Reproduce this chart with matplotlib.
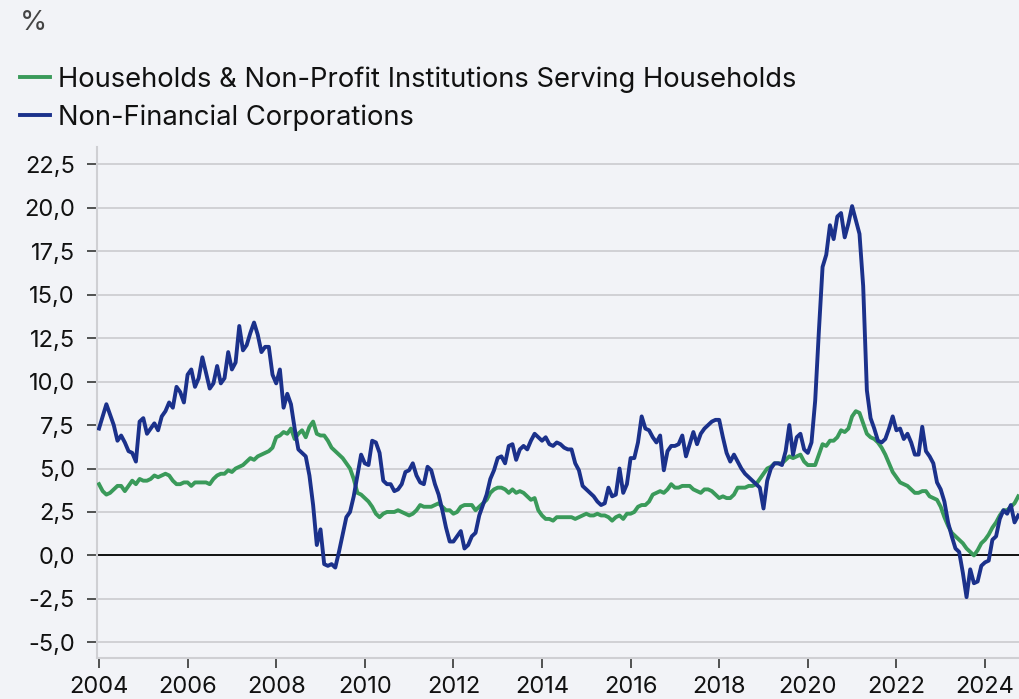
import matplotlib
matplotlib.use("Agg")
import matplotlib.pyplot as plt
import numpy as np
from matplotlib.ticker import FuncFormatter, MultipleLocator

plt.rcParams['font.family'] = ['Inter', 'DejaVu Sans']

start_year = 2004
# Monthly values, Jan 2004 .. Oct 2024
nfc = [
    # 2004
    7.3, 8.0, 8.7, 8.1, 7.5, 6.6, 6.9, 6.5, 6.0, 5.9, 5.4, 7.7,
    # 2005
    7.9, 7.0, 7.3, 7.6, 7.2, 8.0, 8.3, 8.8, 8.5, 9.7, 9.4, 8.8,
    # 2006
    10.4, 10.7, 9.7, 10.2, 11.4, 10.5, 9.6, 9.9, 10.9, 9.9, 10.2, 11.7,
    # 2007
    10.7, 11.1, 13.2, 11.8, 12.1, 12.8, 13.4, 12.7, 11.7, 12.0, 12.0, 10.4,
    # 2008
    9.9, 10.7, 8.5, 9.3, 8.7, 7.3, 6.1, 5.9, 5.7, 4.6, 2.9, 0.6,
    # 2009
    1.5, -0.5, -0.6, -0.5, -0.7, 0.2, 1.2, 2.2, 2.5, 3.4, 4.6, 5.8,
    # 2010
    5.3, 5.2, 6.6, 6.5, 5.9, 4.3, 4.1, 4.1, 3.7, 3.8, 4.1, 4.8,
    # 2011
    4.9, 5.3, 4.6, 4.2, 4.1, 5.1, 4.9, 4.1, 3.5, 2.6, 1.6, 0.8,
    # 2012
    0.8, 1.1, 1.4, 0.4, 0.6, 1.1, 1.3, 2.3, 2.9, 3.5, 4.4, 4.9,
    # 2013
    5.6, 5.7, 5.3, 6.3, 6.4, 5.5, 6.1, 6.3, 6.1, 6.6, 7.0, 6.8,
    # 2014
    6.6, 6.8, 6.4, 6.3, 6.5, 6.4, 6.2, 6.1, 6.1, 5.3, 4.9, 4.0,
    # 2015
    3.8, 3.6, 3.4, 3.1, 2.9, 3.0, 3.9, 3.4, 3.5, 5.0, 3.6, 4.1,
    # 2016
    5.6, 5.6, 6.5, 8.0, 7.3, 7.2, 6.8, 6.5, 6.9, 4.9, 6.0, 6.3,
    # 2017
    6.3, 6.4, 6.9, 5.7, 6.4, 7.1, 6.4, 7.0, 7.3, 7.5, 7.7, 7.8,
    # 2018
    7.8, 6.8, 5.9, 5.4, 5.8, 5.4, 5.0, 4.7, 4.5, 4.3, 4.1, 3.9,
    # 2019
    2.7, 4.3, 5.0, 5.3, 5.3, 5.2, 6.0, 7.5, 5.8, 6.8, 7.0, 6.1,
    # 2020
    5.9, 6.5, 8.9, 12.9, 16.6, 17.3, 19.0, 18.2, 19.5, 19.7, 18.3, 19.1,
    # 2021
    20.1, 19.3, 18.5, 15.5, 9.5, 7.9, 7.3, 6.6, 6.5, 6.7, 7.3, 8.0,
    # 2022
    7.2, 7.3, 6.7, 7.0, 6.5, 5.8, 5.8, 7.4, 6.0, 5.7, 5.3, 4.2,
    # 2023
    3.8, 3.1, 1.9, 1.1, 0.4, 0.2, -1.0, -2.4, -0.8, -1.6, -1.5, -0.6,
    # 2024
    -0.4, -0.3, 0.9, 1.1, 2.1, 2.6, 2.4, 2.9, 1.9, 2.3,
]

households = [
    # 2004
    4.1, 3.7, 3.5, 3.6, 3.8, 4.0, 4.0, 3.7, 4.0, 4.3, 4.1, 4.4,
    # 2005
    4.3, 4.3, 4.4, 4.6, 4.5, 4.6, 4.7, 4.6, 4.3, 4.1, 4.1, 4.2,
    # 2006
    4.2, 4.0, 4.2, 4.2, 4.2, 4.2, 4.1, 4.4, 4.6, 4.7, 4.7, 4.9,
    # 2007
    4.8, 5.0, 5.1, 5.2, 5.4, 5.6, 5.5, 5.7, 5.8, 5.9, 6.0, 6.2,
    # 2008
    6.8, 6.9, 7.1, 7.0, 7.3, 6.7, 7.0, 7.2, 6.8, 7.4, 7.7, 7.0,
    # 2009
    6.9, 6.9, 6.6, 6.2, 6.0, 5.8, 5.6, 5.3, 5.0, 4.4, 3.6, 3.5,
    # 2010
    3.3, 3.1, 2.8, 2.4, 2.2, 2.4, 2.5, 2.5, 2.5, 2.6, 2.5, 2.4,
    # 2011
    2.3, 2.4, 2.6, 2.9, 2.8, 2.8, 2.8, 2.9, 3.0, 2.8, 2.6, 2.6,
    # 2012
    2.4, 2.5, 2.8, 2.9, 2.9, 2.9, 2.6, 2.8, 3.0, 3.2, 3.6, 3.8,
    # 2013
    3.9, 3.9, 3.8, 3.6, 3.8, 3.6, 3.7, 3.6, 3.4, 3.2, 3.3, 2.6,
    # 2014
    2.3, 2.1, 2.1, 2.0, 2.2, 2.2, 2.2, 2.2, 2.2, 2.1, 2.2, 2.3,
    # 2015
    2.4, 2.3, 2.3, 2.4, 2.3, 2.3, 2.2, 2.0, 2.2, 2.3, 2.1, 2.4,
    # 2016
    2.4, 2.5, 2.8, 2.9, 2.9, 3.1, 3.5, 3.6, 3.7, 3.6, 3.8, 4.1,
    # 2017
    3.9, 3.9, 4.0, 4.0, 4.0, 3.8, 3.7, 3.6, 3.8, 3.8, 3.7, 3.5,
    # 2018
    3.3, 3.4, 3.3, 3.3, 3.5, 3.9, 3.9, 3.9, 4.0, 4.0, 4.1, 4.4,
    # 2019
    4.7, 5.0, 5.1, 5.3, 5.3, 5.3, 5.5, 5.7, 5.6, 5.7, 5.8, 5.4,
    # 2020
    5.2, 5.2, 5.2, 5.8, 6.4, 6.3, 6.6, 6.6, 6.8, 7.2, 7.1, 7.3,
    # 2021
    8.0, 8.3, 8.2, 7.6, 7.0, 6.8, 6.7, 6.5, 6.2, 5.8, 5.3, 4.8,
    # 2022
    4.5, 4.2, 4.1, 4.0, 3.8, 3.6, 3.6, 3.7, 3.7, 3.4, 3.3, 3.2,
    # 2023
    2.8, 2.2, 1.7, 1.3, 1.1, 0.9, 0.7, 0.4, 0.2, 0.0, 0.3, 0.7,
    # 2024
    0.9, 1.2, 1.6, 1.9, 2.3, 2.6, 2.6, 2.8, 3.0, 3.4,
]

series_labels = ["Households & Non-Profit Institutions Serving Households",
                 "Non-Financial Corporations"]
x_ticks = [2004, 2006, 2008, 2010, 2012, 2014, 2016, 2018, 2020, 2022, 2024]

GREEN = "#3a9a5a"
BLUE = "#1b318b"
BG = "#f2f3f7"

t_h = start_year + np.arange(len(households)) / 12.0
t_n = start_year + np.arange(len(nfc)) / 12.0

fig = plt.figure(figsize=(10.20, 6.99), dpi=100, facecolor=BG)
ax = fig.add_axes([0.0951, 0.0587, 0.9049, 0.7310])
ax.set_facecolor(BG)

ax.yaxis.set_major_locator(MultipleLocator(2.5))
ax.grid(axis='y', color='#cbcbcf', linewidth=1.2, zorder=0)
ax.axhline(0, color='#111111', linewidth=1.4, zorder=2)

lh, = ax.plot(t_h, households, color=GREEN, linewidth=2.8, zorder=3,
              solid_joinstyle='round')
ln, = ax.plot(t_n, nfc, color=BLUE, linewidth=2.8, zorder=4,
              solid_joinstyle='round')

ax.set_xlim(2003.955, 2024.79)
ax.set_ylim(-5.9, 23.5)
ax.set_xticks(x_ticks)
ax.set_xticklabels([str(v) for v in x_ticks])
ax.yaxis.set_major_formatter(FuncFormatter(lambda v, p: f"{v:.1f}".replace('.', ',')))

for s in ['top', 'right']:
    ax.spines[s].set_visible(False)
for s in ['left', 'bottom']:
    ax.spines[s].set_color('#cfcfd3')
    ax.spines[s].set_linewidth(1.5)

ax.tick_params(axis='both', colors='#444444', labelcolor='#111111',
               labelsize=17, width=1.3, length=7)
ax.tick_params(axis='y', pad=9)
ax.tick_params(axis='x', pad=6)

fig.text(0.019, 0.967, "%", fontsize=20, color='#444444', va='center', ha='left')

leg = fig.legend([lh, ln], series_labels, loc='upper left',
                 bbox_to_anchor=(0.009, 0.921), frameon=False,
                 fontsize=19.7, handlelength=1.1, handletextpad=0.3,
                 labelspacing=0.42, borderaxespad=0.0)
for t in leg.get_texts():
    t.set_color('#111111')

fig.savefig("out.png", dpi=100, facecolor=BG)
